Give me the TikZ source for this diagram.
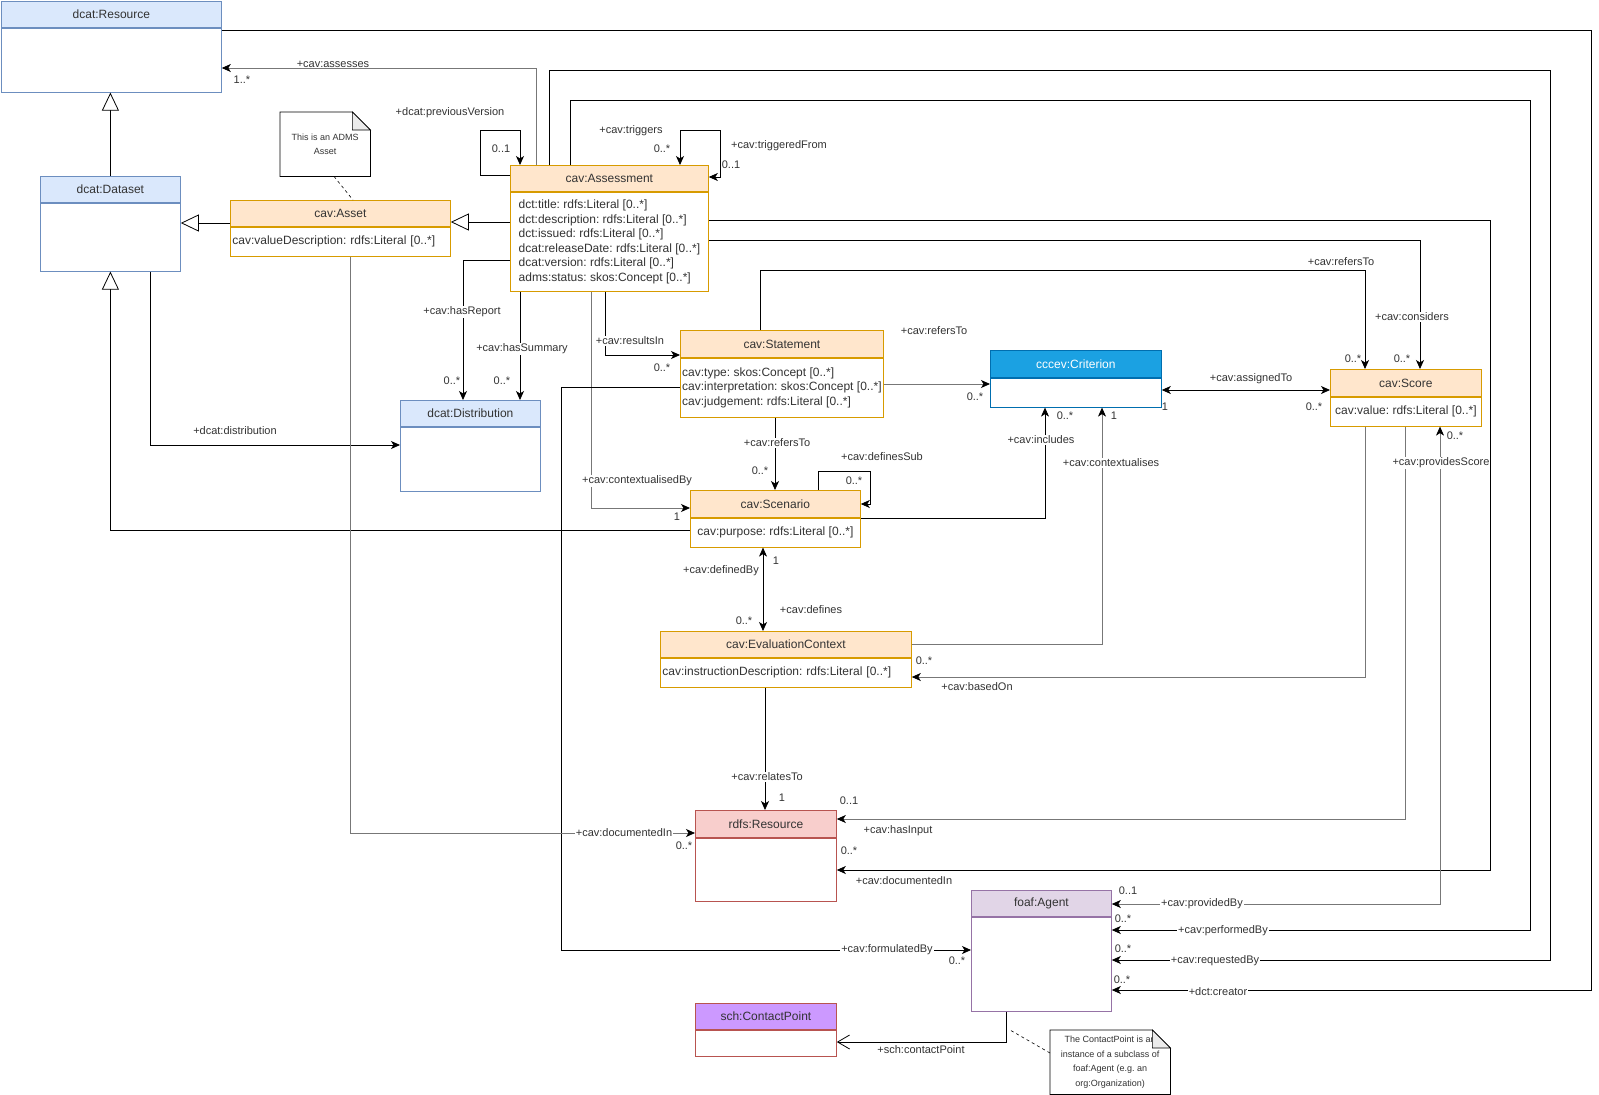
\documentclass[tikz,border=0pt]{standalone}
\usepackage{fontspec}
\setmainfont{Liberation Sans}
\usetikzlibrary{positioning,arrows.meta}
\frenchspacing

\definecolor{orangefill}{HTML}{FFE6CC}
\definecolor{orangeline}{HTML}{D79B00}
\definecolor{bluefill}{HTML}{DAE8FC}
\definecolor{blueline}{HTML}{6C8EBF}
\definecolor{critfill}{HTML}{1BA1E2}
\definecolor{critline}{HTML}{006EAF}
\definecolor{redfill}{HTML}{F8CECC}
\definecolor{redline}{HTML}{B85450}
\definecolor{purplefill}{HTML}{E1D5E7}
\definecolor{purpleline}{HTML}{9673A6}
\definecolor{violetfill}{HTML}{CC99FF}
\definecolor{textgrey}{HTML}{333333}
\definecolor{linegrey}{HTML}{777777}

\tikzstyle{hdr} = [rectangle, draw, line width=0.8pt, minimum height=26pt, inner sep=0pt, text=textgrey, font=\fontsize{12}{14}\selectfont]
\tikzstyle{bdy} = [rectangle, draw, line width=0.8pt, inner sep=0pt, align=left, text=textgrey, font=\fontsize{12}{14.5}\selectfont]
\tikzstyle{cavh} = [hdr, draw=orangeline, fill=orangefill]
\tikzstyle{cavb} = [bdy, draw=orangeline]
\tikzstyle{dcath} = [hdr, draw=blueline, fill=bluefill]
\tikzstyle{dcatb} = [bdy, draw=blueline]
\tikzstyle{lbl} = [inner sep=1pt, text=textgrey, font=\fontsize{11}{13}\selectfont]
\tikzstyle{lblw} = [lbl, fill=white]
\tikzstyle{notebox} = [rectangle, inner sep=0pt, align=center, text=textgrey, font=\fontsize{9}{14.5}\selectfont]
\tikzstyle{assoc} = [line width=0.8pt, -{Stealth[length=9pt,width=8pt,inset=2.5pt,color=black]}]
\tikzstyle{assocg} = [assoc, draw=linegrey]
\tikzstyle{twoway} = [line width=0.8pt, {Stealth[length=9pt,width=8pt,inset=2.5pt,color=black]}-{Stealth[length=9pt,width=8pt,inset=2.5pt,color=black]}]
\tikzstyle{gen} = [line width=0.8pt, -{Triangle[length=18pt,width=17pt,fill=white]}]

\begin{document}
\begin{tikzpicture}[x=1pt,y=-1pt]
\path[use as bounding box, fill=white] (0,0) rectangle (1599,1095);

% classes
\node[dcath, minimum width=220pt, anchor=north west] (res) at (1,1) {dcat:Resource};
\node[dcatb, minimum width=220pt, minimum height=64pt] (resb) [below=0pt of res] {};

\node[dcath, minimum width=140pt, anchor=north west] (dataset) at (40,176) {dcat:Dataset};
\node[dcatb, minimum width=140pt, minimum height=68pt] (datasetb) [below=0pt of dataset] {};

\node[cavh, minimum width=220pt, anchor=north west] (asset) at (230,200) {cav:Asset};
\node[cavb, minimum width=220pt, text width=216pt, minimum height=29pt] (assetb) [below=0pt of asset] {cav:valueDescription: rdfs:Literal [0..*]};

\node[cavh, minimum width=198pt, anchor=north west] (asmt) at (510,165) {cav:Assessment};
\node[cavb, minimum width=198pt, minimum height=99pt] (asmtb) [below=0pt of asmt] {dct:title: rdfs:Literal [0..*]\\dct:description: rdfs:Literal [0..*]\\dct:issued: rdfs:Literal [0..*]\\dcat:releaseDate: rdfs:Literal [0..*]\\dcat:version: rdfs:Literal [0..*]\\adms:status: skos:Concept [0..*]};

\node[dcath, minimum width=140pt, anchor=north west] (distr) at (400,400) {dcat:Distribution};
\node[dcatb, minimum width=140pt, minimum height=64pt] (distrb) [below=0pt of distr] {};

\node[cavh, minimum width=203pt, minimum height=27pt, anchor=north west] (stmt) at (680,330) {cav:Statement};
\node[cavb, minimum width=203pt, minimum height=59pt] (stmtb) [below=0pt of stmt] {cav:type: skos:Concept [0..*]\\cav:interpretation: skos:Concept [0..*]\\cav:judgement: rdfs:Literal [0..*]};

\node[hdr, draw=critline, fill=critfill, text=white, minimum width=171pt, minimum height=27pt, anchor=north west] (crit) at (990,350) {cccev:Criterion};
\node[bdy, draw=critline, minimum width=171pt, minimum height=29pt] (critb) [below=0pt of crit] {};

\node[cavh, minimum width=151pt, minimum height=27pt, anchor=north west] (score) at (1330,369) {cav:Score};
\node[cavb, minimum width=151pt, minimum height=29pt] (scoreb) [below=0pt of score] {cav:value: rdfs:Literal [0..*]};

\node[cavh, minimum width=170pt, minimum height=27pt, anchor=north west] (scen) at (690,490) {cav:Scenario};
\node[cavb, minimum width=170pt, minimum height=29pt] (scenb) [below=0pt of scen] {cav:purpose: rdfs:Literal [0..*]};

\node[cavh, minimum width=251pt, anchor=north west] (evalctx) at (660,631) {cav:EvaluationContext};
\node[cavb, minimum width=251pt, text width=247pt, minimum height=29pt] (evalctxb) [below=0pt of evalctx] {cav:instructionDescription: rdfs:Literal [0..*]};

\node[hdr, draw=redline, fill=redfill, minimum width=141pt, minimum height=27pt, anchor=north west] (rdfsres) at (695,810) {rdfs:Resource};
\node[bdy, draw=redline, minimum width=141pt, minimum height=63pt] (rdfsresb) [below=0pt of rdfsres] {};

\node[hdr, draw=purpleline, fill=purplefill, minimum width=140pt, anchor=north west] (agent) at (971,890) {foaf:Agent};
\node[bdy, draw=purpleline, minimum width=140pt, minimum height=94pt] (agentb) [below=0pt of agent] {};

\node[hdr, draw=redline, fill=violetfill, minimum width=141pt, anchor=north west] (cpoint) at (695,1003) {sch:ContactPoint};
\node[bdy, draw=redline, minimum width=141pt, minimum height=26pt] (cpointb) [below=0pt of cpoint] {};

% notes
\node[notebox, minimum width=90pt, minimum height=64pt, anchor=north west] (note1) at (280,112) {This is an ADMS\\Asset};
\draw[line width=0.8pt] (note1.south west) -- (note1.north west) -- ([xshift=-18pt]note1.north east) -- ([yshift=-18pt]note1.north east) -- (note1.south east) -- cycle;
\draw[line width=0.6pt, fill=black!8] ([xshift=-18pt]note1.north east) -- ([xshift=-18pt,yshift=-18pt]note1.north east) -- ([yshift=-18pt]note1.north east) -- cycle;

\node[notebox, minimum width=120pt, minimum height=64pt, anchor=north west] (note2) at (1050,1030) {The ContactPoint is an\\instance of a subclass of\\foaf:Agent (e.g. an\\org:Organization)};
\draw[line width=0.8pt] (note2.south west) -- (note2.north west) -- ([xshift=-18pt]note2.north east) -- ([yshift=-18pt]note2.north east) -- (note2.south east) -- cycle;
\draw[line width=0.6pt, fill=black!8] ([xshift=-18pt]note2.north east) -- ([xshift=-18pt,yshift=-18pt]note2.north east) -- ([yshift=-18pt]note2.north east) -- cycle;
\coordinate (agentnote) at (1010,1030);

\draw[dashed, line width=0.6pt] (note1.south -| 334,0) -- (asset.north -| 353,0);
\draw[dashed, line width=0.6pt] (note2.west |- 0,1053) -- (agentnote);

% generalisations
\draw[gen] (dataset.north) -- (resb.south -| dataset.north);
\draw[gen] (asset.west |- 0,223) -- (datasetb.east |- 0,223);
\draw[gen] (asmtb.west |- 0,222) -- (assetb.east |- 0,222);
\draw[gen] (scenb.west |- 0,530) -| (datasetb.south);

% associations
\draw[assocg] (asmt.north -| 536,0) |- (resb.east |- 0,68);
\draw[assoc] (resb.east |- 0,30) -| (1591,990) -- (agentb.east |- 0,990);
\draw[assoc] (asmt.north -| 549,0) |- (1550,70) |- (agentb.east |- 0,960);
\draw[assoc] (asmt.north -| 570,0) |- (1530,100) |- (agentb.east |- 0,930);
\draw[assoc] (asmt.west |- 0,175) -| (480,130) -| (asmt.north -| 520,0);
\draw[twoway] (asmt.north -| 680,0) |- (720,130) |- (asmt.east |- 0,177);
\draw[assoc] (asmtb.east |- 0,220) -| (1490,870) -- (rdfsresb.east |- 0,870);
\draw[assoc] (asmtb.east |- 0,240) -| (score.north -| 1420,0);
\draw[assoc] (asmtb.west |- 0,260) -| (distr.north -| 463,0);
\draw[assoc] (asmtb.south -| 520,0) -- (distr.north -| 520,0);
\draw[assoc] (datasetb.south -| 150,0) |- (distrb.west |- 0,445);
\draw[assoc] (asmtb.south -| 605,0) |- (stmt.west |- 0,355);
\draw[assocg] (asmtb.south -| 591,0) |- (scen.west |- 0,508);
\draw[assoc] (stmt.north -| 760,0) |- (1365,270) -- (score.north -| 1365,0);
\draw[assocg] (stmtb.east |- 0,384) -- (critb.west |- 0,384);
\draw[assoc] (stmtb.south -| 775,0) -- (scen.north -| 775,0);
\draw[assoc] (stmtb.west |- 0,387) -| (561,950) -- (agentb.west |- 0,950);
\draw[twoway] (critb.east |- 0,390) -- (score.west |- 0,390);
\draw[assoc] (scen.north -| 818,0) |- (870,471) |- (scen.east |- 0,504);
\draw[assoc] (scenb.east |- 0,518) -| (critb.south -| 1045,0);
\draw[twoway] (scenb.south -| 763,0) -- (evalctx.north -| 763,0);
\draw[assocg] (evalctx.east |- 0,644) -| (critb.south -| 1102,0);
\draw[assocg] (scoreb.south -| 1365,0) |- (evalctxb.east |- 0,677);
\draw[assocg] (scoreb.south -| 1405,0) |- (rdfsres.east |- 0,819);
\draw[twoway, draw=linegrey] (agent.east |- 0,904) -| (scoreb.south -| 1440,0);
\draw[assoc] (evalctxb.south -| 765,0) -- (rdfsres.north -| 765,0);
\draw[assocg] (assetb.south -| 350,0) |- (rdfsres.west |- 0,833);
\draw[line width=0.8pt, -{Straight Barb[length=12pt,width=14pt]}] (agentb.south -| 1006,0) |- (cpointb.east |- 0,1042);

% role names and multiplicities
\node[lblw] (assessesL) at (333,64) {+cav:assesses};
\node[lbl] (assessesM) at (242,80) {1..*};
\node[lbl] (prevL) at (450,113) {+dcat:previousVersion};
\node[lbl] (prevM) at (501,149) {0..1};
\node[lbl] (trigL) at (631,131) {+cav:triggers};
\node[lbl] (trigM) at (662,149) {0..*};
\node[lbl] (trigfL) at (779,146) {+cav:triggeredFrom};
\node[lbl] (trigfM) at (731,165) {0..1};
\node[lblw] (reportL) at (462,312) {+cav:hasReport};
\node[lblw] (summaryL) at (522,349) {+cav:hasSummary};
\node[lbl] (reportM) at (452,381) {0..*};
\node[lbl] (summaryM) at (502,381) {0..*};
\node[lbl] (distL) at (235,431) {+dcat:distribution};
\node[lblw] (resultsL) at (630,341) {+cav:resultsIn};
\node[lbl] (resultsM) at (662,368) {0..*};
\node[lblw] (ctxbyL) at (637,481) {+cav:contextualisedBy};
\node[lbl] (ctxbyM) at (677,517) {1};
\node[lbl] (refcritL) at (934,331) {+cav:refersTo};
\node[lbl] (refcritM) at (975,397) {0..*};
\node[lbl] (refscoreL) at (1341,262) {+cav:refersTo};
\node[lblw] (considersL) at (1412,317) {+cav:considers};
\node[lbl] (refscoreM) at (1353,359) {0..*};
\node[lbl] (considersM) at (1402,359) {0..*};
\node[lbl] (assignedL) at (1251,379) {+cav:assignedTo};
\node[lbl] (assignedM) at (1314,407) {0..*};
\node[lbl] (assignedN) at (1165,407) {1};
\node[lblw] (refscenL) at (777,443) {+cav:refersTo};
\node[lbl] (refscenM) at (760,471) {0..*};
\node[lbl] (subL) at (882,457) {+cav:definesSub};
\node[lbl] (subM) at (854,481) {0..*};
\node[lblw] (includesL) at (1041,440) {+cav:includes};
\node[lbl] (includesM) at (1065,416) {0..*};
\node[lblw] (ctxL) at (1111,463) {+cav:contextualises};
\node[lbl] (ctxM) at (1114,416) {1};
\node[lblw] (provL) at (1441,463) {+cav:providesScore};
\node[lbl] (provM) at (1455,436) {0..*};
\node[lbl] (defbyL) at (721,571) {+cav:definedBy};
\node[lbl] (defbyM) at (776,561) {1};
\node[lbl] (defL) at (811,610) {+cav:defines};
\node[lbl] (defM) at (744,621) {0..*};
\node[lbl] (basedM) at (924,661) {0..*};
\node[lbl] (basedL) at (977,687) {+cav:basedOn};
\node[lblw] (relL) at (767,777) {+cav:relatesTo};
\node[lbl] (relM) at (782,798) {1};
\node[lblw] (docaL) at (624,833) {+cav:documentedIn};
\node[lbl] (docaM) at (684,846) {0..*};
\node[lbl] (inputM) at (849,801) {0..1};
\node[lbl] (inputL) at (898,831) {+cav:hasInput};
\node[lbl] (docM) at (849,851) {0..*};
\node[lbl] (docL) at (904,881) {+cav:documentedIn};
\node[lbl] (providedM) at (1128,891) {0..1};
\node[lblw] (providedL) at (1202,904) {+cav:providedBy};
\node[lbl] (performedM) at (1123,919) {0..*};
\node[lblw] (performedL) at (1223,931) {+cav:performedBy};
\node[lbl] (requestedM) at (1123,949) {0..*};
\node[lblw] (requestedL) at (1215,961) {+cav:requestedBy};
\node[lbl] (creatorM) at (1122,980) {0..*};
\node[lblw] (creatorL) at (1218,992) {+dct:creator};
\node[lblw] (formL) at (887,950) {+cav:formulatedBy};
\node[lbl] (formM) at (957,961) {0..*};
\node[lbl] (contactL) at (921,1050) {+sch:contactPoint};

\end{tikzpicture}
\end{document}
